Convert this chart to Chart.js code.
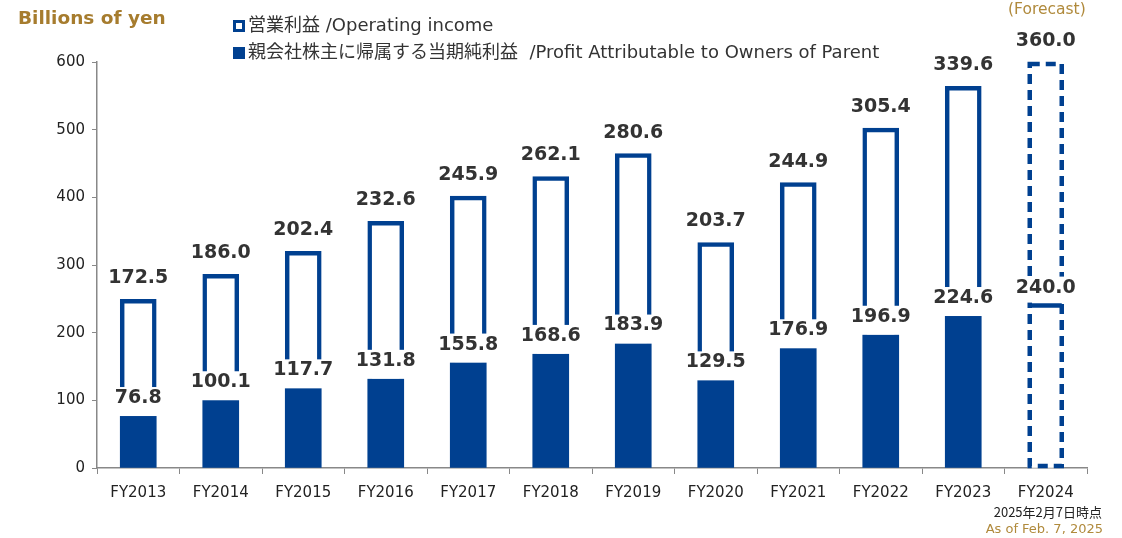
<!DOCTYPE html>
<html>
<head>
<meta charset="utf-8">
<script src="https://cdn.jsdelivr.net/npm/chart.js@4.4.1/dist/chart.umd.min.js"></script>
<style>
  body { margin: 0; background: #fff; font-family: "DejaVu Sans", "Noto Sans CJK JP", sans-serif; }
  #wrap { position: relative; width: 1122px; height: 538px; overflow: hidden; }
  canvas { position: absolute; left: 0; top: 0; }
  .txt { position: absolute; white-space: nowrap; }
  #unit { left: 18px; top: 7px; font-size: 18.5px; font-weight: bold; color: #a67c2e; }
  .leg { left: 233px; font-size: 18px; color: #333; }
  .leg span.box { display: inline-block; width: 12px; height: 12px; margin-right: 3px; vertical-align: -1px; box-sizing: border-box; }
  #forecast { left: 1008px; top: 0px; font-size: 15.5px; color: #b08a3c; }
  #asof1 { right: 20px; top: 502px; font-size: 13px; color: #222; font-family: "Noto Sans CJK JP", sans-serif; }
  #asof2 { right: 19px; top: 521px; font-size: 13px; color: #b08a3c; }
</style>
</head>
<body>
<div id="wrap">
  <canvas id="chart" width="1122" height="538"></canvas>
  <div class="txt" id="unit">Billions of yen</div>
  <div class="txt leg" style="top:10px"><span class="box" style="border:3px solid #004090;background:#fff"></span>営業利益 /Operating income</div>
  <div class="txt leg" style="top:37px"><span class="box" style="background:#004090"></span>親会社株主に帰属する当期純利益&nbsp; /Profit Attributable to Owners of Parent</div>
  <div class="txt" id="forecast">(Forecast)</div>
  <div class="txt" id="asof1">2025年2月7日時点</div>
  <div class="txt" id="asof2">As of Feb. 7, 2025</div>
</div>
<script>
const years = ['FY2013', 'FY2014', 'FY2015', 'FY2016', 'FY2017', 'FY2018', 'FY2019', 'FY2020', 'FY2021', 'FY2022', 'FY2023', 'FY2024'];
const profit = [76.8, 100.1, 117.7, 131.8, 155.8, 168.6, 183.9, 129.5, 176.9, 196.9, 224.6, 240.0];
const operating = [172.5, 186.0, 202.4, 232.6, 245.9, 262.1, 280.6, 203.7, 244.9, 305.4, 339.6, 360.0];
const forecastIndex = 11;

const blue = '#004090';

// value labels + dashed forecast bar
const labelPlugin = {
    id: 'labels',
    afterDatasetsDraw(chart) {
        const ctx = chart.ctx;
        const yScale = chart.scales.y;
        const pMeta = chart.getDatasetMeta(0);
        const oMeta = chart.getDatasetMeta(1);

        // forecast bar outline
        const fb = oMeta.data[forecastIndex];
        const pb = pMeta.data[forecastIndex];
        const half = fb.width / 2 - 2;
        ctx.save();
        ctx.strokeStyle = blue;
        ctx.lineWidth = 4.5;
        ctx.setLineDash([10, 6]);
        ctx.strokeRect(fb.x - half, fb.y + 2, half * 2, yScale.getPixelForValue(0) - fb.y - 4);
        ctx.setLineDash([]);
        ctx.beginPath();
        ctx.moveTo(pb.x - half, pb.y);
        ctx.lineTo(pb.x + half, pb.y);
        ctx.stroke();
        ctx.restore();

        ctx.save();
        ctx.font = 'bold 19px "DejaVu Sans", sans-serif';
        ctx.textAlign = 'center';
        ctx.textBaseline = 'middle';
        // profit labels sit on a white patch that reaches down to the bar top
        pMeta.data.forEach((bar, i) => {
            const txt = profit[i].toFixed(1);
            const w = ctx.measureText(txt).width;
            const cy = bar.y - 18;
            ctx.fillStyle = '#fff';
            ctx.fillRect(bar.x - w / 2 - 2, cy - 11, w + 4, bar.y - cy + 11 - (i === forecastIndex ? 3 : 0));
            ctx.fillStyle = '#333';
            ctx.fillText(txt, bar.x, cy);
        });
        oMeta.data.forEach((bar, i) => {
            ctx.fillStyle = '#333';
            ctx.fillText(operating[i].toFixed(1), bar.x, bar.y - 21);
        });
        ctx.restore();
    }
};

new Chart(document.getElementById('chart'), {
    type: 'bar',
    data: {
        labels: years,
        datasets: [
            {
                label: '親会社株主に帰属する当期純利益 /Profit Attributable to Owners of Parent',
                data: profit,
                backgroundColor: ctx => ctx.dataIndex === forecastIndex ? '#fff' : blue,
                borderWidth: 0,
                barThickness: 36
            },
            {
                label: '営業利益 /Operating income',
                data: operating,
                backgroundColor: '#fff',
                borderColor: blue,
                borderWidth: ctx => ctx.dataIndex === forecastIndex ? 0 : 4.5,
                borderSkipped: 'bottom',
                barThickness: 36
            }
        ]
    },
    options: {
        responsive: false,
        animation: false,
        layout: { padding: { left: 0, right: 35, top: 62, bottom: 30 } },
        plugins: {
            legend: { display: false },
            tooltip: { enabled: false }
        },
        scales: {
            x: {
                stacked: true,
                afterFit: s => { s.height = 40; },
                grid: { offset: true, drawOnChartArea: false, tickLength: 6, color: '#888' },
                border: { color: '#888', width: 1.5 },
                ticks: { color: '#222', font: { size: 15, family: '"DejaVu Sans", sans-serif' }, padding: 10 }
            },
            y: {
                stacked: true,
                min: 0,
                max: 600,
                afterFit: s => { s.width = 97; },
                grid: { drawOnChartArea: false, tickLength: 5, color: '#888' },
                border: { color: '#888', width: 1.5 },
                ticks: { stepSize: 100, color: '#222', font: { size: 15, family: '"DejaVu Sans", sans-serif' }, padding: 7 }
            }
        }
    },
    plugins: [labelPlugin]
});
</script>
</body>
</html>
